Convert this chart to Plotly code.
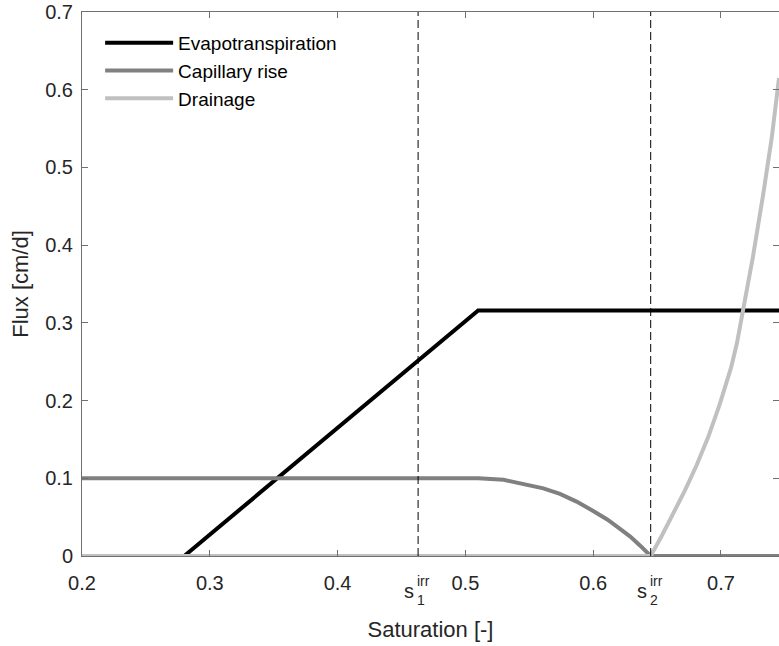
import plotly.graph_objects as go

# Saturation axis values and fluxes [cm/d]
s_et = [0.2, 0.28, 0.51, 0.7454]
et = [0.0, 0.0, 0.316, 0.316]

s_cap = [0.2, 0.51, 0.53, 0.548, 0.561, 0.574, 0.587, 0.600, 0.611, 0.621, 0.629, 0.637, 0.645, 0.7454]
cap = [0.1, 0.1, 0.098, 0.092, 0.087, 0.080, 0.070, 0.058, 0.047, 0.035, 0.025, 0.013, 0.0, 0.0]

s_dr = [0.2, 0.645, 0.654, 0.6627, 0.672, 0.681, 0.690, 0.699, 0.708, 0.7125,
        0.7175, 0.725, 0.733, 0.7397, 0.7454]
dr = [0.0, 0.0, 0.027, 0.055, 0.085, 0.117, 0.153, 0.195, 0.243, 0.274,
      0.316, 0.385, 0.465, 0.538, 0.615]

s_irr = [0.463, 0.645]
s_irr_idx = ["1", "2"]

x_ticks = [0.2, 0.3, 0.4, 0.5, 0.6, 0.7]
y_ticks = [0, 0.1, 0.2, 0.3, 0.4, 0.5, 0.6, 0.7]

FONT = "Liberation Sans, Arial, sans-serif"
AX = "#707070"
TXT = "#262626"
LW = 4

fig = go.Figure()
fig.add_trace(go.Scatter(x=s_et, y=et, mode="lines", name="Evapotranspiration",
                         line=dict(color="#000000", width=LW), cliponaxis=False))
fig.add_trace(go.Scatter(x=s_cap, y=cap, mode="lines", name="Capillary rise",
                         line=dict(color="#808080", width=LW), cliponaxis=False))
fig.add_trace(go.Scatter(x=s_dr, y=dr, mode="lines", name="Drainage",
                         line=dict(color="#c0c0c0", width=LW), cliponaxis=False))

# dashed markers at the irreducible saturations, labelled s_i^irr under the axis
for xv, idx in zip(s_irr, s_irr_idx):
    fig.add_vline(x=xv, line=dict(color="#000000", width=1, dash="8px,4px"))
    fig.add_annotation(x=xv, y=0, xref="x", yref="paper", text="s", showarrow=False,
                       xanchor="right", yanchor="top", xshift=-2, yshift=-22,
                       font=dict(family=FONT, size=20, color=TXT))
    fig.add_annotation(x=xv, y=0, xref="x", yref="paper", text="irr", showarrow=False,
                       xanchor="left", yanchor="top", xshift=-3, yshift=-15,
                       font=dict(family=FONT, size=14, color=TXT))
    fig.add_annotation(x=xv, y=0, xref="x", yref="paper", text=idx, showarrow=False,
                       xanchor="left", yanchor="top", xshift=-3, yshift=-34,
                       font=dict(family=FONT, size=14, color=TXT))

axis_common = dict(
    showline=True, linecolor=AX, linewidth=1, mirror="ticks",
    ticks="inside", ticklen=6, tickcolor=AX, tickwidth=1,
    showgrid=False, zeroline=False,
    tickfont=dict(family=FONT, size=20, color=TXT),
)

fig.update_xaxes(range=[0.2, 0.7454], tickvals=x_ticks,
                 ticktext=[f"{v:g}" for v in x_ticks],
                 ticklabelstandoff=9,
                 title=dict(text="Saturation [-]", font=dict(family=FONT, size=22, color=TXT),
                            standoff=28),
                 **axis_common)
fig.update_yaxes(range=[0, 0.7], tickvals=y_ticks,
                 ticktext=[f"{v:g}" for v in y_ticks],
                 ticklabelstandoff=4,
                 title=dict(text="Flux [cm/d]", font=dict(family=FONT, size=22, color=TXT),
                            standoff=10),
                 **axis_common)

fig.update_layout(
    width=779, height=646,
    margin=dict(l=82, r=0, t=12, b=90, autoexpand=False),
    paper_bgcolor="white", plot_bgcolor="white",
    legend=dict(x=0.026, y=0.978, xanchor="left", yanchor="top",
                bgcolor="rgba(0,0,0,0)", itemwidth=68,
                font=dict(family=FONT, size=19, color="#000000")),
)

fig.write_html("out.html")
